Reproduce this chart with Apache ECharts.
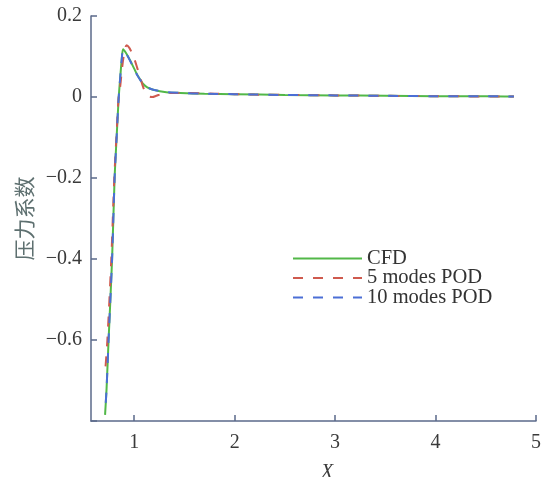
<!DOCTYPE html>
<html>
<head>
<meta charset="utf-8">
<style>
  html, body { margin: 0; padding: 0; background: #fff; }
  #chart { width: 545px; height: 477px; }
</style>
<script src="https://cdn.jsdelivr.net/npm/echarts@6/dist/echarts.min.js"></script>
</head>
<body>
<div id="chart"></div>
<script>
// Pressure coefficient along X: CFD reference and POD reconstructions
const seriesNames = ['CFD', '5 modes POD', '10 modes POD'];

const xCfd = [0.71, 0.725, 0.745, 0.78, 0.805, 0.825, 0.845, 0.86, 0.875, 0.89, 0.92, 0.96, 1.0, 1.03, 1.06, 1.09, 1.13, 1.19, 1.32, 1.46, 1.7, 2.0, 2.5, 3.0, 3.5, 4.0, 4.5, 4.78];
const yCfd = [-0.785, -0.72, -0.6, -0.4, -0.2, -0.1, -0.005, 0.045, 0.09, 0.118, 0.108, 0.09, 0.07, 0.055, 0.043, 0.032, 0.024, 0.018, 0.012, 0.01, 0.008, 0.007, 0.005, 0.004, 0.003, 0.002, 0.002, 0.001];

const xPod5 = [0.715, 0.733, 0.772, 0.802, 0.825, 0.845, 0.858, 0.875, 0.895, 0.925, 0.95, 0.975, 1.0, 1.03, 1.06, 1.09, 1.12, 1.15, 1.18, 1.22, 1.28, 1.35, 1.5, 1.8, 2.2, 3.0, 4.0, 4.78];
const yPod5 = [-0.665, -0.6, -0.4, -0.2, -0.09, 0.0, 0.02, 0.06, 0.1, 0.128, 0.122, 0.11, 0.095, 0.072, 0.048, 0.024, 0.008, 0.001, 0.0, 0.003, 0.008, 0.01, 0.01, 0.008, 0.006, 0.004, 0.002, 0.001];

const xPod10 = [0.71, 0.725, 0.745, 0.78, 0.805, 0.825, 0.845, 0.86, 0.875, 0.89, 0.92, 0.96, 1.0, 1.03, 1.06, 1.09, 1.13, 1.19, 1.32, 1.46, 1.7, 2.0, 2.5, 3.0, 3.5, 4.0, 4.5, 4.78];
const yPod10 = [-0.78, -0.72, -0.6, -0.4, -0.2, -0.1, -0.004, 0.046, 0.09, 0.116, 0.107, 0.089, 0.069, 0.054, 0.042, 0.032, 0.024, 0.018, 0.012, 0.01, 0.008, 0.007, 0.005, 0.004, 0.003, 0.002, 0.002, 0.001];

const xTicks = [1, 2, 3, 4, 5];

const pairs = (xs, ys) => xs.map((x, i) => [x, ys[i]]);

const serif = '"Liberation Serif", "DejaVu Serif", serif';
const axisColor = '#5b6a8a';
const textColor = '#3a3a3a';

const chart = echarts.init(document.getElementById('chart'), null, { renderer: 'canvas' });

chart.setOption({
  animation: false,
  backgroundColor: '#ffffff',
  grid: { left: 91, right: 9, top: 16, bottom: 56, containLabel: false, outerBoundsMode: 'none' },
  legend: {
    left: 287,
    top: 243,
    orient: 'vertical',
    itemWidth: 69,
    itemHeight: 14,
    itemGap: -1.5,
    data: seriesNames,
    itemStyle: { opacity: 0 },
    lineStyle: { dashOffset: 0 },
    textStyle: { fontFamily: serif, fontSize: 20.5, lineHeight: 19, color: '#333' }
  },
  xAxis: {
    type: 'value',
    min: 0.57,
    max: 5,
    name: 'X',
    nameLocation: 'middle',
    nameGap: 42,
    nameTextStyle: { fontFamily: serif, fontStyle: 'italic', fontSize: 20, color: textColor, padding: [0, 0, 0, 27] },
    axisLine: { show: true, onZero: false, lineStyle: { color: axisColor, width: 1.5 } },
    axisTick: { show: true, inside: true, length: 6, customValues: xTicks, lineStyle: { color: axisColor, width: 1.5 } },
    axisLabel: { customValues: xTicks, margin: 12, fontFamily: serif, fontSize: 20, color: textColor },
    splitLine: { show: false }
  },
  yAxis: {
    type: 'value',
    min: -0.8,
    max: 0.2,
    interval: 0.2,
    name: '压力系数',
    nameLocation: 'middle',
    nameGap: 54,
    nameRotate: 90,
    nameTextStyle: { fontFamily: '"Noto Sans CJK SC", sans-serif', fontSize: 21, color: '#5e7070' },
    axisLine: { show: true, onZero: false, lineStyle: { color: axisColor, width: 1.5 } },
    axisTick: { show: true, inside: true, length: 6, lineStyle: { color: axisColor, width: 1.5 } },
    axisLabel: {
      margin: 9,
      fontFamily: serif,
      fontSize: 20,
      color: textColor,
      formatter: v => {
        const r = Math.round(v * 10) / 10;
        if (r <= -0.8) return '';
        if (r === 0) return '0';
        return (r < 0 ? '\u2212' : '') + Math.abs(r).toFixed(1);
      }
    },
    splitLine: { show: false }
  },
  series: [
    {
      name: seriesNames[0],
      type: 'line',
      data: pairs(xCfd, yCfd),
      symbol: 'none',
      smooth: 0.3,
      lineStyle: { color: '#52b848', width: 2 },
      itemStyle: { color: '#52b848' }
    },
    {
      name: seriesNames[1],
      type: 'line',
      data: pairs(xPod5, yPod5),
      symbol: 'none',
      smooth: 0.3,
      lineStyle: { color: '#cf5a4e', width: 2, type: [10, 10] },
      itemStyle: { color: '#cf5a4e' }
    },
    {
      name: seriesNames[2],
      type: 'line',
      data: pairs(xPod10, yPod10),
      symbol: 'none',
      smooth: 0.3,
      lineStyle: { color: '#4b6fd6', width: 2, type: [10, 10], dashOffset: 10 },
      itemStyle: { color: '#4b6fd6' }
    }
  ]
});
</script>
</body>
</html>
